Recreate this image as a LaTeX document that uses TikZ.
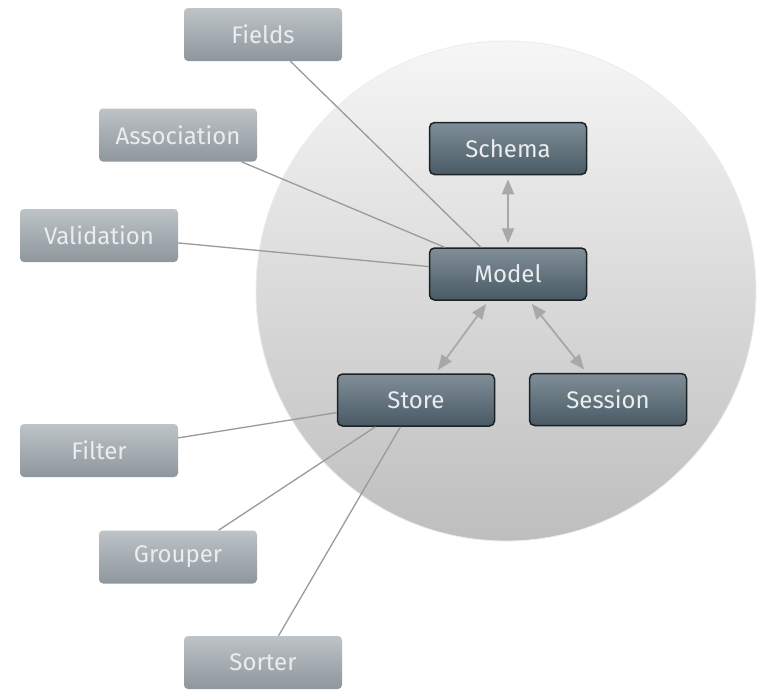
\documentclass[tikz,border=0pt]{standalone}
\usepackage{fontspec}
\setmainfont{Fira Sans}
\usetikzlibrary{arrows.meta}
\definecolor{circtop}{HTML}{F6F6F6}
\definecolor{circbot}{HTML}{BEBEBE}
\definecolor{darktop}{HTML}{7F8E97}
\definecolor{darkbot}{HTML}{4A5A65}
\definecolor{darkedge}{HTML}{1C2124}
\definecolor{lighttop}{HTML}{BDC3C7}
\definecolor{lightbot}{HTML}{8E979D}
\definecolor{boxtext}{HTML}{EAEDEF}
\definecolor{linkcol}{HTML}{9A9A9A}
\definecolor{arrowcol}{HTML}{A8A8A8}
\tikzset{
  outerbox/.style={rectangle, rounded corners=4pt, minimum width=158pt, minimum height=53pt,
    top color=lighttop, bottom color=lightbot, draw=none, text=boxtext,
    font=\fontsize{24}{28}\selectfont, inner sep=0pt},
  corebox/.style={rectangle, rounded corners=5pt, minimum width=157pt, minimum height=52pt,
    top color=darktop, bottom color=darkbot, draw=darkedge, line width=1.5pt, text=boxtext,
    font=\fontsize{24}{28}\selectfont, inner sep=0pt},
  link/.style={draw=linkcol, line width=1.3pt},
  biarrow/.style={draw=arrowcol, line width=1.8pt,
    {Triangle[length=15pt,width=12pt]}-{Triangle[length=15pt,width=12pt]},
    shorten <=4pt, shorten >=4pt}
}
\begin{document}
\begin{tikzpicture}[x=1pt,y=-1pt]
\useasboundingbox (0,0) rectangle (761,689);
\fill[white] (0,0) rectangle (761,689);
\shade[top color=circtop, bottom color=circbot, draw=white!85!gray, line width=0.8pt] (506,291) circle[radius=250];
% core nodes
\node[corebox] (schema) at (508,148.5) {Schema};
\node[corebox] (model) at (508,274) {Model};
\node[corebox] (store) at (416,400) {Store};
\node[corebox] (session) at (608,399.5) {Session};
% outer nodes
\node[outerbox] (fields) at (263,34.5) {Fields};
\node[outerbox] (association) at (178,135) {Association};
\node[outerbox] (validation) at (99,235.5) {Validation};
\node[outerbox] (filter) at (99,450.5) {Filter};
\node[outerbox] (grouper) at (178,557) {Grouper};
\node[outerbox] (sorter) at (263,662.5) {Sorter};
% links
\draw[link] (fields) -- (model);
\draw[link] (association) -- (model);
\draw[link] (validation) -- (model);
\draw[link] (filter) -- (store);
\draw[link] (grouper) -- (store);
\draw[link] (sorter) -- (store);
% arrows
\draw[biarrow] (schema) -- (model);
\draw[biarrow] (model) -- (store);
\draw[biarrow] (model) -- (session);
\end{tikzpicture}
\end{document}
